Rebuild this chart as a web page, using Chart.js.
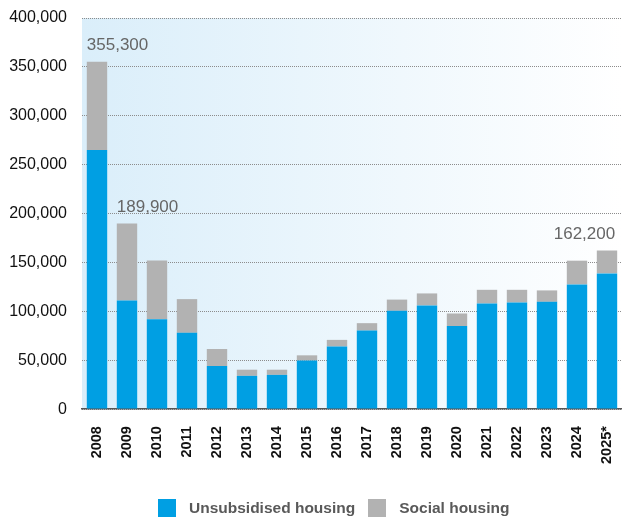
<!DOCTYPE html>
<html>
<head>
<meta charset="utf-8">
<script src="https://cdn.jsdelivr.net/npm/chart.js@4"></script>
<style>
    html, body { margin: 0; padding: 0; background: #fff; }
    #wrap { position: relative; width: 622px; height: 518px; }
    #legend {
        position: absolute; left: 158px; top: 499px;
        display: flex; align-items: center;
        font: bold 15.5px "Liberation Sans", Arial, sans-serif; color: #595959;
    }
    #legend .box { width: 18px; height: 18px; margin-right: 13px; }
    #legend .item { display: flex; align-items: center; margin-right: 13px; }
</style>
</head>
<body>
<div id="wrap">
    <canvas id="housingChart"></canvas>
    <div id="legend"></div>
</div>
<script>
const years = ["2008", "2009", "2010", "2011", "2012", "2013", "2014", "2015", "2016",
    "2017", "2018", "2019", "2020", "2021", "2022", "2023", "2024", "2025*"];

const unsubsidised = [265000, 111000, 92000, 78000, 44000, 34000, 35000, 49600, 64000,
    80300, 100500, 106000, 85000, 108000, 109000, 109700, 127500, 138800];

const social = [90300, 78900, 60000, 34500, 17500, 6300, 5300, 5400, 6800,
    7600, 11500, 12300, 12800, 14000, 13000, 11700, 24300, 23400];

// years whose total gets printed above the bar
const labelledYears = ["2008", "2009", "2025*"];

const yTicks = [0, 50000, 100000, 150000, 200000, 250000, 300000, 350000, 400000];

const BLUE = "#009fe3";
const GREY = "#b2b2b2";
const FONT = "'Liberation Sans', Arial, sans-serif";

const fmt = v => v.toLocaleString("en-US");

// pale blue wash behind the plot
const plotBackground = {
    id: "plotBackground",
    beforeDraw(chart) {
        const { ctx, chartArea: a } = chart;
        const g = ctx.createLinearGradient(a.left, 0, a.right, 0);
        g.addColorStop(0, "#daeefa");
        g.addColorStop(1, "#ffffff");
        ctx.save();
        ctx.fillStyle = g;
        ctx.fillRect(a.left, a.top, a.right - a.left, a.bottom - a.top);
        ctx.restore();
    }
};

// totals above selected bars
const totalLabels = {
    id: "totalLabels",
    afterDatasetsDraw(chart) {
        const { ctx } = chart;
        const meta = chart.getDatasetMeta(1);
        const y = chart.scales.y;
        ctx.save();
        ctx.font = "17px " + FONT;
        ctx.fillStyle = "#666";
        ctx.textBaseline = "bottom";
        years.forEach((yr, i) => {
            if (!labelledYears.includes(yr)) return;
            const total = unsubsidised[i] + social[i];
            const bar = meta.data[i];
            const half = bar.width / 2;
            const last = i === years.length - 1;
            ctx.textAlign = last ? "right" : "left";
            const x = last ? bar.x + half - 2 : bar.x - half;
            ctx.fillText(fmt(total), x, y.getPixelForValue(total) - 8);
        });
        ctx.restore();
    }
};

const ctx = document.getElementById("housingChart");

const chart = new Chart(ctx, {
    type: "bar",
    data: {
        labels: years,
        datasets: [
            { label: "Unsubsidised housing", data: unsubsidised, backgroundColor: BLUE },
            { label: "Social housing", data: social, backgroundColor: GREY }
        ]
    },
    options: {
        responsive: true,
        maintainAspectRatio: false,
        animation: false,
        layout: { padding: { left: 8, right: 0, top: 18, bottom: 37 } },
        datasets: {
            bar: { categoryPercentage: 1, barPercentage: 0.68 }
        },
        scales: {
            x: {
                stacked: true,
                grid: { display: false, drawTicks: false },
                border: { display: true, color: "#555", width: 1.5 },
                ticks: {
                    color: "#111",
                    font: { family: FONT, size: 14.5, weight: "bold" },
                    minRotation: 90,
                    maxRotation: 90,
                    padding: 17
                },
                // the rotated labels fit inside their columns, no side padding needed
                afterFit(scale) {
                    scale.paddingLeft = 0;
                    scale.paddingRight = 0;
                }
            },
            y: {
                stacked: true,
                min: 0,
                max: 400000,
                afterBuildTicks(scale) {
                    scale.ticks = yTicks.map(v => ({ value: v }));
                },
                afterFit(scale) {
                    scale.width = 74;
                    scale.paddingTop = 0;
                    scale.paddingBottom = 0;
                },
                grid: { color: "#8c8c8c", drawTicks: false, lineWidth: 1 },
                border: { display: false, dash: [1, 1] },
                ticks: {
                    color: "#111",
                    font: { family: FONT, size: 16 },
                    padding: 15,
                    callback: v => fmt(v)
                }
            }
        },
        plugins: {
            legend: { display: false },
            tooltip: { enabled: false }
        }
    },
    plugins: [plotBackground, totalLabels]
});

// html legend
const legend = document.getElementById("legend");
chart.data.datasets.forEach(ds => {
    const item = document.createElement("div");
    item.className = "item";
    item.innerHTML = '<span class="box" style="background:' + ds.backgroundColor + '"></span>' + ds.label;
    legend.appendChild(item);
});
</script>
</body>
</html>
